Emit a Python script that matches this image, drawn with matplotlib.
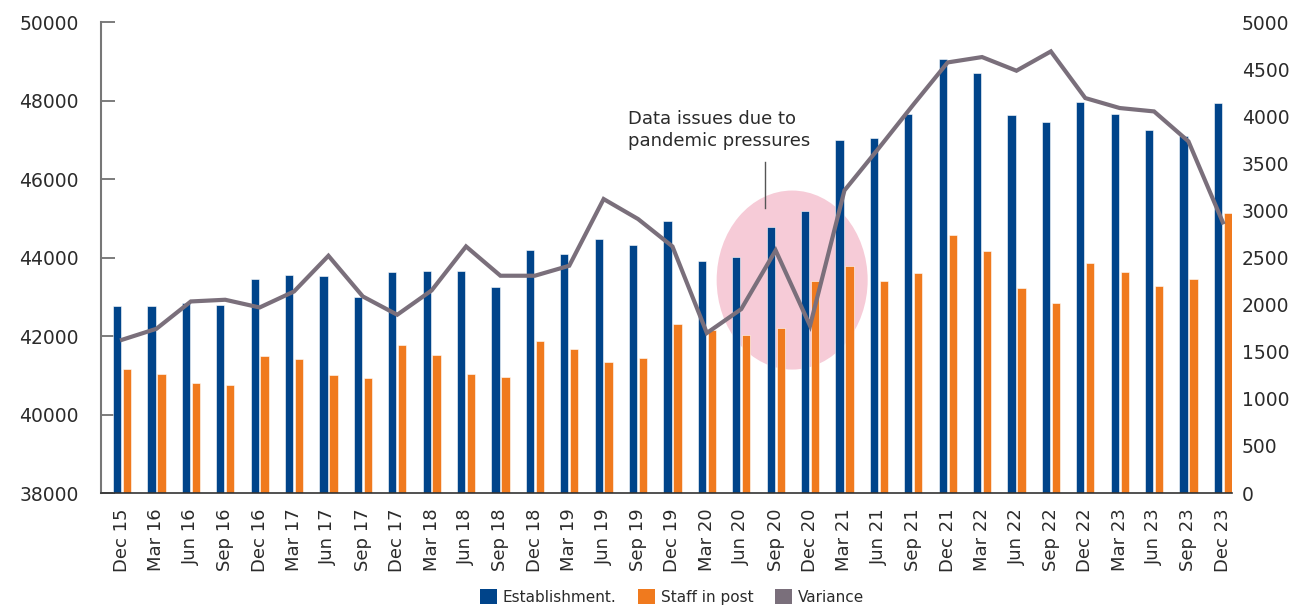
import matplotlib
matplotlib.use("Agg")
import matplotlib.pyplot as plt
from matplotlib.patches import Ellipse, Patch
import numpy as np

plt.rcParams['font.family'] = ['DejaVu Sans']

categories = ["Dec 15", "Mar 16", "Jun 16", "Sep 16", "Dec 16", "Mar 17", "Jun 17", "Sep 17",
              "Dec 17", "Mar 18", "Jun 18", "Sep 18", "Dec 18", "Mar 19", "Jun 19", "Sep 19",
              "Dec 19", "Mar 20", "Jun 20", "Sep 20", "Dec 20", "Mar 21", "Jun 21", "Sep 21",
              "Dec 21", "Mar 22", "Jun 22", "Sep 22", "Dec 22", "Mar 23", "Jun 23", "Sep 23",
              "Dec 23"]

establishment = [42775, 42775, 42850, 42800, 43444, 43554, 43540, 42986,
                 43640, 43665, 43665, 43258, 44188, 44094, 44469, 44323,
                 44927, 43908, 44010, 44790, 45197, 46990, 47050, 47665,
                 49062, 48696, 47631, 47452, 47975, 47652, 47253, 47100,
                 47931]

staff_in_post = [41152, 41024, 40795, 40744, 41483, 41414, 41006, 40922,
                 41763, 41508, 41042, 40948, 41873, 41678, 41347, 41432,
                 42298, 42153, 42025, 42213, 43411, 43787, 43393, 43605,
                 44586, 44163, 43215, 42851, 43855, 43640, 43274, 43444,
                 45146]

variance = [1627, 1744, 2034, 2052, 1970, 2140, 2519, 2087,
            1893, 2151, 2618, 2307, 2307, 2413, 3121, 2909,
            2618, 1699, 1953, 2576, 1776, 3212, 3662, 4122,
            4571, 4628, 4483, 4688, 4193, 4087, 4051, 3733,
            2873]

left_ticks = [38000, 40000, 42000, 44000, 46000, 48000, 50000]
right_ticks = [0, 500, 1000, 1500, 2000, 2500, 3000, 3500, 4000, 4500, 5000]

annotation_text = "Data issues due to\npandemic pressures"

blue = "#00448a"
orange = "#f07a1e"
grey = "#7a6f7b"
pink = "#f6cbd7"
text_col = "#2b2b2b"

fig = plt.figure(figsize=(12.97, 6.08), dpi=100)
ax = fig.add_axes([0.0779, 0.189, 0.8721, 0.7748])
ax2 = ax.twinx()

x = np.arange(len(categories))
w = 0.24
off = 0.145

ax.set_xlim(-0.61, 32.27)
ax.set_ylim(38000, 50000)
ax2.set_ylim(0, 5000)

def ypx(py):
    return 38000 + (493 - py) / 471 * 12000

# pink highlight ellipse
ax.add_patch(Ellipse((19.48, ypx(280)), 151 / 34.4, 179 / 471 * 12000,
                     facecolor=pink, edgecolor='none', zorder=0))

ax.bar(x - off, establishment, width=w, bottom=0, color=blue, zorder=2,
       edgecolor='white', linewidth=0.4)
ax.bar(x + off, staff_in_post, width=w, bottom=0, color=orange, zorder=2,
       edgecolor='white', linewidth=0.4)

ax2.plot(x, variance, color=grey, linewidth=3.0, solid_joinstyle='miter', zorder=3)

# annotation
ax.text(14.71, ypx(110), annotation_text, fontsize=13,
        color=text_col, ha='left', va='top', linespacing=1.25, zorder=4)
ax.plot([18.69, 18.69], [ypx(162), ypx(208)], color="#555555", linewidth=1.0, zorder=4)

# axes styling
ax.set_xticks(x)
ax.set_xticklabels(categories, rotation=90, fontsize=13, color=text_col)
ax.tick_params(axis='x', length=0, pad=11)
ax.set_yticks(left_ticks)
ax.set_yticklabels([str(t) for t in left_ticks], fontsize=13.5, color=text_col)
ax.tick_params(axis='y', direction='in', length=10, width=1.2, color="#666666", pad=16)

ax2.set_yticks(right_ticks)
ax2.set_yticklabels([str(t) for t in right_ticks], fontsize=13.5, color=text_col)
ax2.tick_params(axis='y', length=0, pad=7)

for a in (ax, ax2):
    a.spines['top'].set_visible(False)
    a.spines['right'].set_visible(False)
ax2.spines['left'].set_visible(False)
ax2.spines['bottom'].set_visible(False)
ax.spines['left'].set_color("#777777")
ax.spines['left'].set_linewidth(1.5)
ax.spines['bottom'].set_color("#333333")
ax.spines['bottom'].set_linewidth(1.2)

handles = [Patch(facecolor=blue, label="Establishment."),
           Patch(facecolor=orange, label="Staff in post"),
           Patch(facecolor=grey, label="Variance")]
fig.legend(handles=handles, loc='center', bbox_to_anchor=(0.518, 0.018), ncol=3,
           frameon=False, fontsize=11, handlelength=1.1, handleheight=1.1,
           handletextpad=0.4, columnspacing=1.4, labelcolor=text_col)

fig.savefig("out.png", dpi=100)
